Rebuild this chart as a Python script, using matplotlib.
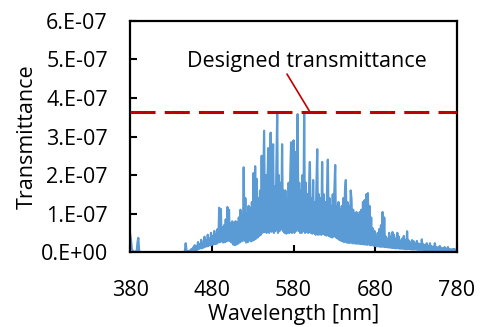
import matplotlib.pyplot as plt
import numpy as np
from matplotlib.ticker import FuncFormatter

plt.rcParams['font.family'] = ['Open Sans', 'DejaVu Sans']

# wavelength grid, 1 nm steps
wavelength = np.arange(380, 781, 1)

# transmittance, in units of 1e-8 (one row per 10 nm)
trans_e8 = [
    4.7, 3.2, 1.0, 0.3, 0.1, 0.1, 0.1, 0.1, 0.2, 2.5,        # 380
    3.7, 0.4, 0, 0, 0, 0, 0, 0, 0, 0,                        # 390
    0, 0, 0, 0, 0, 0, 0, 0, 0, 0,                            # 400
    0, 0, 0, 0, 0, 0, 0, 0, 0, 0,                            # 410
    0, 0, 0, 0, 0, 0, 0, 0, 0, 0,                            # 420
    0, 0, 0, 0, 0, 0, 0, 0, 0, 0,                            # 430
    0, 0, 0, 0, 0, 0, 0, 0.3, 2.3, 0.3,                      # 440
    0.1, 0.2, 0.1, 0.4, 0.2, 0.8, 0.3, 1.2, 0.4, 1.8,        # 450
    0.5, 1.5, 0.6, 2.6, 0.8, 2.0, 1.0, 3.2, 1.0, 2.4,        # 460
    1.2, 4.0, 1.4, 3.0, 1.5, 4.5, 1.6, 3.5, 1.8, 5.0,        # 470
    1.9, 4.2, 2.0, 5.5, 2.1, 4.5, 2.2, 6.0, 2.5, 11.5,       # 480
    2.6, 11.2, 2.8, 6.5, 2.5, 7.0, 2.6, 8.5, 2.8, 11.7,      # 490
    3.0, 11.0, 2.9, 7.5, 2.5, 8.0, 2.0, 7.5, 1.8, 8.0,       # 500
    2.0, 7.8, 2.2, 9.0, 2.5, 11.0, 2.8, 9.5, 3.0, 22.0,      # 510
    3.0, 14.0, 2.5, 10.0, 2.6, 12.0, 3.0, 11.5, 2.8, 13.0,   # 520
    3.0, 20.5, 3.2, 22.3, 3.5, 19.0, 3.8, 14.0, 4.2, 16.0,   # 530
    4.5, 25.0, 5.0, 18.0, 31.5, 5.2, 20.0, 5.0, 17.0, 27.0,  # 540
    5.0, 16.0, 31.0, 5.3, 19.0, 28.0, 5.0, 17.0, 5.5, 22.0,  # 550
    35.8, 5.0, 20.0, 5.5, 18.0, 6.0, 28.0, 5.5, 16.0, 5.0,   # 560
    16.0, 4.8, 14.0, 5.0, 18.0, 5.0, 20.0, 28.5, 5.0, 15.0,  # 570
    29.0, 5.0, 26.0, 5.5, 17.0, 35.8, 5.5, 18.0, 5.0, 16.0,  # 580
    5.0, 20.0, 5.5, 36.0, 5.0, 18.0, 5.2, 15.0, 5.0, 17.0,   # 590
    23.4, 5.0, 14.0, 4.8, 18.7, 5.0, 13.0, 4.5, 17.0, 26.7,  # 600
    4.5, 15.0, 4.6, 14.0, 4.5, 23.4, 4.8, 15.0, 4.5, 13.0,   # 610
    4.3, 16.0, 24.0, 4.2, 14.0, 4.0, 12.0, 3.8, 15.0, 4.0,   # 620
    16.0, 22.6, 3.8, 12.0, 3.5, 13.0, 3.2, 11.0, 3.0, 12.0,  # 630
    2.8, 14.0, 2.6, 16.0, 18.7, 2.5, 13.0, 2.4, 12.0, 2.4,   # 640
    16.0, 13.5, 2.3, 11.0, 2.3, 10.0, 2.2, 10.4, 2.2, 9.5,   # 650
    2.2, 10.4, 2.1, 11.0, 2.1, 13.0, 2.0, 13.5, 2.0, 15.0,   # 660
    1.9, 15.3, 2.0, 12.0, 1.8, 9.0, 1.8, 6.2, 1.7, 5.5,      # 670
    1.6, 4.0, 1.5, 5.0, 1.5, 6.0, 1.4, 7.0, 1.4, 10.4,       # 680
    1.4, 9.0, 1.3, 4.0, 1.3, 3.5, 1.2, 5.0, 1.2, 4.0,        # 690
    1.1, 5.2, 1.1, 4.5, 1.0, 3.5, 1.0, 5.0, 1.0, 4.0,        # 700
    0.9, 3.0, 0.9, 3.5, 0.9, 4.2, 0.8, 3.0, 0.8, 5.4,        # 710
    0.8, 3.0, 0.8, 2.5, 0.7, 3.1, 0.7, 2.8, 0.7, 2.2,        # 720
    0.7, 2.9, 0.6, 2.2, 0.6, 2.0, 0.6, 3.3, 0.6, 2.0,        # 730
    0.5, 1.8, 0.5, 2.3, 0.5, 1.6, 0.5, 2.3, 0.5, 1.5,        # 740
    0.5, 1.4, 0.4, 2.3, 0.4, 1.3, 0.4, 1.2, 0.4, 1.6,        # 750
    0.4, 1.1, 0.4, 1.0, 0.3, 1.3, 0.3, 0.9, 0.3, 1.3,        # 760
    0.3, 0.8, 0.3, 0.7, 0.3, 0.8, 0.2, 0.8, 0.2, 0.6,        # 770
    0.2,                                                     # 780
]
transmittance = np.array(trans_e8) * 1e-8

designed = 3.64e-7
x_ticks = [380, 480, 580, 680, 780]
y_ticks = [0, 1e-7, 2e-7, 3e-7, 4e-7, 5e-7, 6e-7]


def sci_label(v, pos):
    m, e = f"{v:.0E}".split('E')
    return f"{m}.E{e}"


fig = plt.figure(figsize=(4.82, 3.27), dpi=100)
ax = fig.add_axes([0.27, 0.229, 0.678, 0.707])

ax.plot(wavelength, transmittance, color='#5B9BD5', linewidth=1.6, zorder=2)
ax.axhline(designed, color='#C00000', linewidth=2.2, dashes=(8.2, 3.0), zorder=3)

# callout
ax.text(596, 4.94e-7, 'Designed transmittance', ha='center', va='center',
        fontsize=15.5)
ax.annotate('', xy=(600, designed), xytext=(572, 4.62e-7),
            arrowprops=dict(arrowstyle='-', color='#C00000', lw=1.2,
                            shrinkA=0, shrinkB=0))

ax.set_xlim(380, 780)
ax.set_ylim(0, 6e-7)
ax.set_xticks(x_ticks)
ax.set_yticks(y_ticks)
ax.yaxis.set_major_formatter(FuncFormatter(sci_label))
ax.tick_params(direction='in', length=5, width=1.5, labelsize=15.5)
ax.tick_params(axis='y', pad=16)
ax.tick_params(axis='x', pad=20)
for s in ax.spines.values():
    s.set_linewidth(1.6)

ax.set_xlabel('Wavelength [nm]', fontsize=15.5, labelpad=2)
ax.set_ylabel('Transmittance', fontsize=15.5, labelpad=2)

fig.savefig('out.png', dpi=100)
